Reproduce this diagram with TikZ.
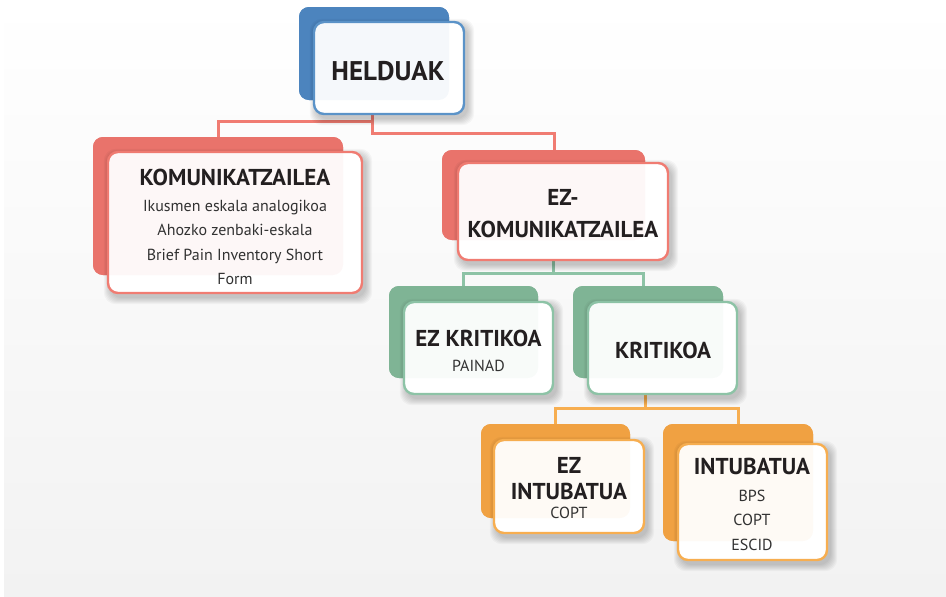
\documentclass[tikz,border=0pt]{standalone}
\usepackage{fontspec}
\setmainfont{PT Sans}
\definecolor{bluebk}{RGB}{76,132,190}
\definecolor{bluefr}{RGB}{91,147,200}
\definecolor{redbk}{RGB}{233,115,107}
\definecolor{redfr}{RGB}{240,124,114}
\definecolor{grnbk}{RGB}{127,180,149}
\definecolor{grnfr}{RGB}{141,195,166}
\definecolor{orgbk}{RGB}{240,161,66}
\definecolor{orgfr}{RGB}{247,174,80}
\definecolor{bgbot}{RGB}{242,242,242}
\definecolor{ttl}{RGB}{35,31,32}
\definecolor{bodyc}{RGB}{50,50,50}
\tikzset{
  backbox/.style={rounded corners=10pt, fill=#1, draw=none, inner sep=0pt},
  frontbox/.style={rounded corners=10pt, draw=#1, line width=2.4pt, fill=white, inner sep=0pt},
  tintbox/.style={rounded corners=10pt, fill=#1, fill opacity=0.05, draw=none, inner sep=0pt},
  link/.style={line width=3pt, draw=#1},
  txt/.style={align=center, inner sep=0pt, text=bodyc, font=\fontsize{16}{24.5}\selectfont},
}
\newcommand\ttlf{\fontsize{23}{24}\selectfont\bfseries\color{ttl}}
\newcommand\mysoftshadow[1]{%
  \foreach \s in {1,...,7}{%
    \fill[black, opacity=0.032, rounded corners=12pt]
      ([shift={(3-\s,4+\s)}]#1.south west) rectangle ([shift={(3+\s,4-\s)}]#1.north east);}}
\begin{document}
\begin{tikzpicture}[x=1pt, y=-1pt]
\useasboundingbox (0,0) rectangle (946,597);
\shade[top color=white, bottom color=bgbot] (4,0) rectangle (946,597);

% connector junctions
\coordinate (hj1) at (372,121);
\coordinate (hj2) at (372,133);
\coordinate (ekt) at (554,152);
\coordinate (gj) at (553,273);
\coordinate (kkt) at (643,288);
\coordinate (oj) at (645,408);

% back boxes
\node[backbox=bluebk, minimum width=150, minimum height=93] (hb) at (374,53.5) {};
\node[backbox=redbk, minimum width=250, minimum height=138] (kb) at (218,206) {};
\node[backbox=redbk, minimum width=203, minimum height=90] (eb) at (543.5,195) {};
\node[backbox=grnbk, minimum width=149, minimum height=92] (zkb) at (463.5,332) {};
\node[backbox=grnbk, minimum width=150, minimum height=92] (kkb) at (648,332) {};
\node[backbox=orgbk, minimum width=149, minimum height=94] (eib) at (555.5,471) {};
\node[backbox=orgbk, minimum width=150, minimum height=117] (ib) at (738,482.5) {};

% connectors
\draw[link=redfr] (hb.south -| hj1) -- (hj1) -| (kb.north);
\draw[link=redfr] (hj1) -- (hj2) -| (ekt);
\draw[link=grnfr] (eb.south -| gj) -- (gj) -| (zkb.north);
\draw[link=grnfr] (gj) -| (kkt);
\draw[link=orgfr] (kkb.south -| oj) -- (oj) -| (eib.north);
\draw[link=orgfr] (oj) -| (ib.north);

% redraw back boxes over connector ends
\node[backbox=bluebk, minimum width=150, minimum height=93] at (hb) {};
\node[backbox=redbk, minimum width=250, minimum height=138] at (kb) {};
\node[backbox=redbk, minimum width=203, minimum height=90] at (eb) {};
\node[backbox=grnbk, minimum width=149, minimum height=92] at (zkb) {};
\node[backbox=grnbk, minimum width=150, minimum height=92] at (kkb) {};
\node[backbox=orgbk, minimum width=149, minimum height=94] at (eib) {};
\node[backbox=orgbk, minimum width=150, minimum height=117] at (ib) {};

% front box placeholders (for shadows)
\path (389,68) node[minimum width=150, minimum height=92, inner sep=0pt] (hf) {};
\path (235,222.5) node[minimum width=254, minimum height=141, inner sep=0pt] (kf) {};
\path (563,211.5) node[minimum width=210, minimum height=97, inner sep=0pt] (ef) {};
\path (478.5,348) node[minimum width=149, minimum height=92, inner sep=0pt] (zkf) {};
\path (662.5,348) node[minimum width=149, minimum height=92, inner sep=0pt] (kkf) {};
\path (569,486.5) node[minimum width=150, minimum height=93, inner sep=0pt] (eif) {};
\path (752.5,502) node[minimum width=149, minimum height=116, inner sep=0pt] (itf) {};

\mysoftshadow{hf}
\mysoftshadow{kf}
\mysoftshadow{ef}
\mysoftshadow{zkf}
\mysoftshadow{kkf}
\mysoftshadow{eif}
\mysoftshadow{itf}

\node[frontbox=bluefr, minimum width=150, minimum height=92] at (hf) {};
\node[frontbox=redfr, minimum width=254, minimum height=141] at (kf) {};
\node[frontbox=redfr, minimum width=210, minimum height=97] at (ef) {};
\node[frontbox=grnfr, minimum width=149, minimum height=92] at (zkf) {};
\node[frontbox=grnfr, minimum width=149, minimum height=92] at (kkf) {};
\node[frontbox=orgfr, minimum width=150, minimum height=93] at (eif) {};
\node[frontbox=orgfr, minimum width=149, minimum height=116] at (itf) {};

% tint overlays
\node[tintbox=bluebk, minimum width=150, minimum height=93] at (hb) {};
\node[tintbox=redbk, minimum width=250, minimum height=138] at (kb) {};
\node[tintbox=redbk, minimum width=203, minimum height=90] at (eb) {};
\node[tintbox=grnbk, minimum width=149, minimum height=92] at (zkb) {};
\node[tintbox=grnbk, minimum width=150, minimum height=92] at (kkb) {};
\node[tintbox=orgbk, minimum width=149, minimum height=94] at (eib) {};
\node[tintbox=orgbk, minimum width=150, minimum height=117] at (ib) {};

% texts
\node[txt] (ht) at (388,71.5) {\fontsize{27}{30}\selectfont\bfseries\color{ttl}HELDUAK};
\node[txt] (kt) at (235,227) {{\ttlf KOMUNIKATZAILEA}\\[1pt]Ikusmen eskala analogikoa\\Ahozko zenbaki-eskala\\Brief Pain Inventory Short\\Form};
\node[txt] (et) at (563,213.5) {{\ttlf EZ-}\\[8pt]{\ttlf KOMUNIKATZAILEA}};
\node[txt] (zkt) at (478.5,351) {{\ttlf EZ KRITIKOA}\\PAINAD};
\node[txt] (kkt2) at (663,350) {\ttlf KRITIKOA};
\node[txt] (eit) at (569,488) {{\ttlf EZ}\\[1.5pt]{\ttlf INTUBATUA}\\[-5.5pt]COPT};
\node[txt] (itt) at (752,504.5) {{\ttlf INTUBATUA}\\[2pt]BPS\\COPT\\ESCID};
\end{tikzpicture}
\end{document}
